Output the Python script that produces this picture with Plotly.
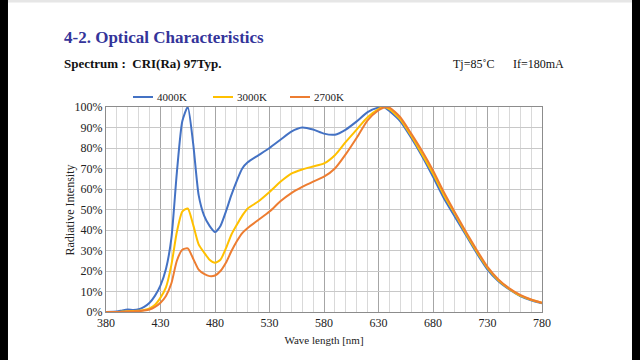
import plotly.graph_objects as go

wavelength = [380, 390, 395, 400, 405, 410, 415, 420, 425, 430, 435, 440, 445, 450, 455, 460, 465, 470, 475,
              480, 485, 490, 495, 500, 505, 510, 520, 530, 540, 550, 560, 570, 580, 590, 600, 610, 620,
              630, 635, 640, 650, 660, 670, 680, 690, 700, 710, 720, 730, 740, 750, 760, 770, 780]

cct_4000 = [0, 0.2, 0.8, 1.2, 1.0, 1.3, 2.5, 4.5, 8, 13, 21, 36, 68, 93, 100, 82, 57, 47, 42,
            39, 42, 49, 57, 64, 70, 73, 76.5, 80, 84, 88, 90, 89, 87, 86.5, 89, 93, 97.5,
            99.7, 100, 98, 93, 85, 76, 66, 55.5, 46.5, 37.7, 28.8, 20.7, 15, 11, 7.8, 5.7, 4.2]

cct_3000 = [0, 0, 0.2, 0.4, 0.5, 0.6, 1, 1.8, 3.5, 7, 12, 23, 39, 49, 50.5, 42.5, 33, 29, 25.5,
            24, 25.5, 31, 37.7, 42.5, 47, 50.5, 54, 58.5, 63.5, 67.5, 69.5, 71, 72.5, 76.5, 83, 89, 95,
            99, 100, 99, 94, 86, 77, 67.5, 57, 48, 38.5, 29.6, 21.5, 15.5, 11.3, 8, 6, 4.5]

cct_2700 = [0, 0, 0, 0.2, 0.3, 0.4, 0.7, 1.2, 2.5, 4.5, 7.8, 14, 25, 30.4, 31, 26, 20.7, 18.6, 17.5,
            17.8, 20, 24, 29.6, 34.5, 38.5, 41, 45, 49, 54, 58, 61, 63.6, 66, 70, 77, 85, 93.5,
            98.4, 99.8, 99.7, 95, 87, 78.5, 69, 58.4, 48.7, 39.3, 30.4, 22, 15.9, 11.5, 8.3, 6.1, 4.5]

series_names = ["4000K", "3000K", "2700K"]
series_colors = ["#4472C4", "#FFC000", "#ED7D31"]
x_ticks = [380, 430, 480, 530, 580, 630, 680, 730, 780]

SERIF = "Liberation Serif, Times New Roman, serif"

fig = go.Figure()
for name, vals, col in zip(series_names, [cct_4000, cct_3000, cct_2700], series_colors):
    fig.add_trace(go.Scatter(x=wavelength, y=vals, name=name, mode="lines",
                             line=dict(color=col, width=2, shape="spline", smoothing=0.6)))

fig.update_layout(
    width=640, height=360,
    margin=dict(l=106, r=98, t=107, b=48),
    paper_bgcolor="white", plot_bgcolor="white",
    font=dict(family=SERIF, size=12, color="#222"),
    showlegend=False,
    xaxis=dict(range=[380, 780], tickvals=x_ticks, showgrid=True, gridcolor="#a6a6a6", gridwidth=1,
               minor=dict(dtick=10, tick0=380, showgrid=True, gridcolor="#d9d9d9", gridwidth=1),
               showline=True, linecolor="#8c8c8c", linewidth=1, mirror=True, ticks="",
               zeroline=False,
               title=dict(text="Wave length [nm]", font=dict(family=SERIF, size=11), standoff=6),
               tickfont=dict(family=SERIF, size=12)),
    yaxis=dict(range=[0, 100], dtick=10, ticksuffix="%", showgrid=True, gridcolor="#c8c8c8",
               gridwidth=1, showline=True, linecolor="#8c8c8c", linewidth=1, mirror=True,
               ticks="", zeroline=False, tickfont=dict(family=SERIF, size=12)),
)

# y axis title (placed close to tick labels as in the reference)
fig.add_annotation(text="Radiative Intensity", xref="paper", yref="paper", x=-0.0826, y=0.5,
                   textangle=-90, xanchor="center", yanchor="middle", showarrow=False,
                   font=dict(family=SERIF, size=12, color="#222"))

# legend (drawn at top, short line samples)
legend_line_x = [(0.0619, 0.1078), (0.2454, 0.2913), (0.4220, 0.4679)]
for name, col, (lx0, lx1) in zip(series_names, series_colors, legend_line_x):
    fig.add_shape(type="line", xref="paper", yref="paper", x0=lx0, x1=lx1, y0=1.0488, y1=1.0488,
                  line=dict(color=col, width=2))
    fig.add_annotation(text=name, xref="paper", yref="paper", x=lx1 + 0.004, y=1.0488,
                       xanchor="left", yanchor="middle", showarrow=False,
                       font=dict(family=SERIF, size=11, color="#222"))

# page header texts
fig.add_annotation(text="<b>4-2. Optical Characteristics</b>", xref="paper", yref="paper",
                   x=-0.1009, y=1.341, xanchor="left", yanchor="middle", showarrow=False,
                   font=dict(family=SERIF, size=17, color="#34349a"))
fig.add_annotation(text="<b>Spectrum :  CRI(Ra) 97Typ.</b>", xref="paper", yref="paper",
                   x=-0.1009, y=1.21, xanchor="left", yanchor="middle", showarrow=False,
                   font=dict(family=SERIF, size=13, color="#111"))
fig.add_annotation(text="Tj=85˚C", xref="paper", yref="paper",
                   x=0.7913, y=1.21, xanchor="left", yanchor="middle", showarrow=False,
                   font=dict(family=SERIF, size=12, color="#111"))
fig.add_annotation(text="If=180mA", xref="paper", yref="paper",
                   x=0.9289, y=1.21, xanchor="left", yanchor="middle", showarrow=False,
                   font=dict(family=SERIF, size=12, color="#111"))

# dark side bars and top shadow of the screenshot
fig.add_shape(type="rect", xref="paper", yref="paper", x0=-0.2500, x1=-0.2248, y0=-0.3, y1=1.6,
              fillcolor="black", line_width=0, layer="above")
fig.add_shape(type="rect", xref="paper", yref="paper", x0=1.2064, x1=1.2600, y0=-0.3, y1=1.6,
              fillcolor="black", line_width=0, layer="above")
fig.add_shape(type="rect", xref="paper", yref="paper", x0=-0.2248, x1=1.2064, y0=1.510, y1=1.6,
              fillcolor="#e6e6e6", line_width=0, layer="above")

fig.write_html("out.html", config={"displayModeBar": False},
               post_script="document.body.style.margin='0';document.body.style.overflow='hidden';")
